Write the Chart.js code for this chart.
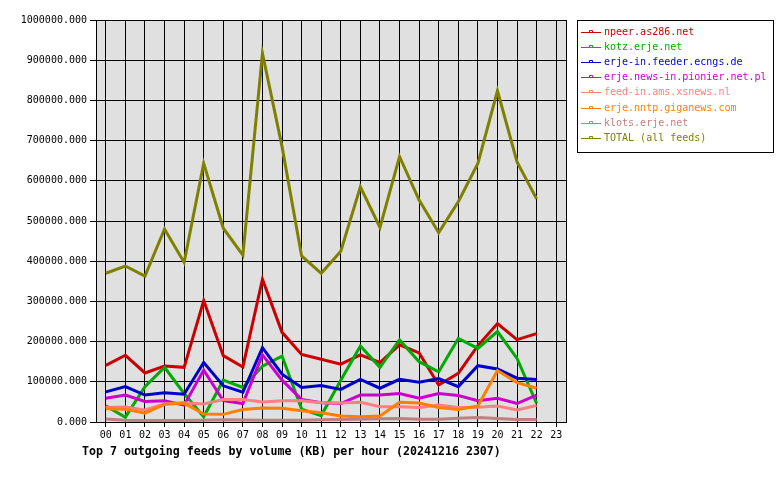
<!DOCTYPE html>
<html>
<head>
<meta charset="utf-8">
<script src="https://cdn.jsdelivr.net/npm/chart.js@4"></script>
<style>
  body{margin:0;background:#fff;}
  canvas{display:block;}
</style>
</head>
<body>
<canvas id="feeds" width="780" height="480"></canvas>
<script>
const hours = ['00','01','02','03','04','05','06','07','08','09','10','11','12','13','14','15','16','17','18','19','20','21','22','23'];
const yTicks = [0,100000,200000,300000,400000,500000,600000,700000,800000,900000,1000000];

const feedNames = ['npeer.as286.net','kotz.erje.net','erje-in.feeder.ecngs.de','erje.news-in.pionier.net.pl','feed-in.ams.xsnews.nl','erje.nntp.giganews.com','klots.erje.net','TOTAL (all feeds)'];
const feedColors = ['#cc0000','#00aa00','#0000cc','#cc00cc','#ff8080','#ff8000','#c08080','#808000'];

const npeer   = [141000,166000,122000,139000,136000,302000,165000,137000,355000,223000,168000,156000,144000,167000,148000,192000,172000,92000,121000,190000,245000,205000,220000];
const kotz    = [40000,12000,88000,136000,71000,13000,104000,86000,139000,164000,32000,16000,104000,189000,136000,204000,150000,125000,208000,183000,225000,158000,46000];
const ecngs   = [75000,88000,67000,73000,69000,148000,90000,74000,185000,119000,86000,91000,81000,106000,84000,106000,99000,108000,88000,140000,132000,109000,106000];
const pionier = [59000,67000,51000,53000,42000,129000,53000,46000,167000,104000,56000,48000,46000,67000,67000,71000,59000,71000,66000,53000,59000,46000,67000];
const xsnews  = [36000,37000,30000,45000,48000,45000,56000,56000,50000,53000,53000,48000,47000,49000,38000,38000,36000,42000,36000,37000,40000,30000,41000];
const giga    = [33000,32000,22000,44000,47000,20000,19000,31000,35000,34000,28000,23000,15000,13000,15000,49000,47000,36000,31000,40000,128000,98000,84000];
const klots   = [7500,4500,4000,4000,4000,4500,5500,5000,4500,4500,4500,5500,6000,7000,8000,9000,7000,7000,9500,11500,9000,6000,6000];
const total   = [370000,388000,363000,480000,397000,643000,482000,415000,917000,685000,413000,370000,425000,585000,484000,660000,552000,471000,548000,643000,824000,647000,555000];

const series = [npeer,kotz,ecngs,pionier,xsnews,giga,klots,total];
const title = 'Top 7 outgoing feeds by volume (KB) per hour (20241216 2307)';
const MONO = "'DejaVu Sans Mono', monospace";

// plot background, frame, legend box and bottom title
const decor = {
  id:'decor',
  beforeDraw(chart){
    const {ctx, chartArea:a} = chart;
    ctx.save();
    ctx.fillStyle = '#e0e0e0';
    ctx.fillRect(a.left, a.top, a.right - a.left, a.bottom - a.top);
    ctx.restore();
  },
  afterDraw(chart){
    const {ctx, chartArea:a} = chart;
    ctx.save();
    ctx.strokeStyle = '#000';
    ctx.lineWidth = 1;
    ctx.strokeRect(Math.round(a.left)+0.5, Math.round(a.top)+0.5, Math.round(a.right-a.left), Math.round(a.bottom-a.top));

    // legend
    const lx = Math.round(a.right) + 11, ly = Math.round(a.top);
    ctx.fillStyle = '#fff';
    ctx.fillRect(lx, ly, 196, 132);
    ctx.strokeRect(lx + 0.5, ly + 0.5, 196, 132);
    ctx.font = `10px ${MONO}`;
    ctx.textBaseline = 'middle';
    ctx.textAlign = 'left';
    feedNames.forEach((name, i) => {
      const y = Math.round(ly + 12 + i * 15.1) + 0.5;
      ctx.strokeStyle = feedColors[i];
      ctx.beginPath();
      ctx.moveTo(lx + 4, y);
      ctx.lineTo(lx + 24, y);
      ctx.moveTo(lx + 12.5, y);
      ctx.lineTo(lx + 12.5, y - 2);
      ctx.lineTo(lx + 15.5, y - 2);
      ctx.lineTo(lx + 15.5, y);
      ctx.stroke();
      ctx.fillStyle = feedColors[i];
      ctx.fillText(name, lx + 27, y);
    });

    // title
    ctx.fillStyle = '#000';
    ctx.font = `bold 11.6px ${MONO}`;
    ctx.textAlign = 'left';
    ctx.fillText(title, a.left - 14, a.bottom + 30);
    ctx.restore();
  }
};

new Chart(document.getElementById('feeds'), {
  type:'line',
  data:{
    labels: hours,
    datasets: series.map((d, i) => ({
      label: feedNames[i],
      data: d,
      borderColor: feedColors[i],
      backgroundColor: feedColors[i],
      borderWidth: 3,
      pointRadius: 0,
      tension: 0,
      fill: false,
      order: series.length - i
    }))
  },
  options:{
    responsive:false,
    animation:false,
    layout:{ padding:{ top:20, right:214, bottom:0, left:0 } },
    plugins:{ legend:{display:false}, tooltip:{enabled:false}, title:{display:false} },
    scales:{
      x:{
        offset:true,
        grid:{ offset:false, color:'#000', lineWidth:1, tickLength:5, drawOnChartArea:true },
        border:{ color:'#000' },
        ticks:{ color:'#000', font:{family:MONO, size:10}, padding:2, maxRotation:0, autoSkip:false },
        afterFit(s){ s.height = 58; }
      },
      y:{
        min:0, max:1000000,
        afterBuildTicks(s){ s.ticks = yTicks.map(v => ({value:v})); },
        grid:{ color:'#000', lineWidth:1, tickLength:6 },
        border:{ color:'#000' },
        ticks:{ color:'#000', font:{family:MONO, size:10}, padding:3, callback:v => Number(v).toFixed(3) },
        afterFit(s){ s.width = 96; }
      }
    }
  },
  plugins:[decor]
});
</script>
</body>
</html>
